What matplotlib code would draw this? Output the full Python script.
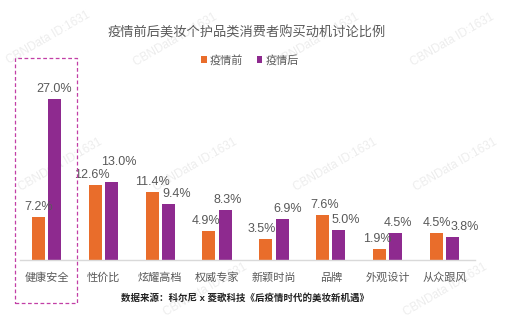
import matplotlib
matplotlib.use("Agg")
import matplotlib.pyplot as plt
from matplotlib.patches import Rectangle

plt.rcParams["font.family"] = ["Liberation Sans", "Noto Sans CJK SC", "DejaVu Sans"]

TITLE = "疫情前后美妆个护品类消费者购买动机讨论比例"
SOURCE = "数据来源：科尔尼 x 菱歌科技《后疫情时代的美妆新机遇》"
categories = ["健康安全", "性价比", "炫耀高档", "权威专家", "新颖时尚", "品牌", "外观设计", "从众跟风"]
series_names = ["疫情前", "疫情后"]
before = [7.2, 12.6, 11.4, 4.9, 3.5, 7.6, 1.9, 4.5]
after = [27.0, 13.0, 9.4, 8.3, 6.9, 5.0, 4.5, 3.8]

ORANGE = "#E96D2B"
PURPLE = "#8E2A8F"
GREY = "#595959"

W, H = 511, 324
fig = plt.figure(figsize=(W / 100, H / 100), dpi=100)


def fx(px):
    return px / W


def fy(py):
    # pixel measured from the top -> figure fraction
    return 1 - py / H


# axes: baseline at y=260px, 5.97 px per percent
ax = fig.add_axes([fx(20), fy(260), fx(455), 179.1 / H])
ax.patch.set_alpha(0)
ax.set_xlim(-0.47, 7.54)
ax.set_ylim(0, 30)
for s in ["top", "right", "left"]:
    ax.spines[s].set_visible(False)
ax.spines["bottom"].set_color("#d9d9d9")
ax.spines["bottom"].set_linewidth(1)
ax.set_yticks([])
ax.tick_params(axis="x", length=0, pad=9, labelsize=8, labelcolor=GREY)

x = list(range(len(categories)))
w, off = 0.23, 0.145
ax.bar([i - off for i in x], before, width=w, color=ORANGE, label=series_names[0])
ax.bar([i + off for i in x], after, width=w, color=PURPLE, label=series_names[1])
ax.set_xticks(x)
ax.set_xticklabels(categories)

# label nudges in pixels (Excel moved some labels to avoid overlap)
nudge_before = [(0, 0), (-3, 0), (0, 0), (-3, 0), (-4, 0), (2, 0), (-2, 0), (1, 0)]
nudge_after = [(-1, 0), (7, 10), (8, 0), (2, 0), (6, 0), (7, 0), (2, 0), (12, 0)]
for i in x:
    for val, sgn, nd in ((before[i], -1, nudge_before[i]), (after[i], 1, nudge_after[i])):
        ax.annotate(f"{val:.1f}%", (i + sgn * off, val), xytext=(nd[0], 7 + nd[1]),
                    textcoords="offset pixels", ha="center", va="baseline",
                    fontsize=9, color=GREY)

fig.text(fx(247), fy(33), TITLE, ha="center", va="center", fontsize=9.5, color=GREY)
fig.legend(loc="center", bbox_to_anchor=(fx(250), fy(60)), ncol=2, frameon=False,
           fontsize=8, handlelength=0.5, handleheight=0.5, handletextpad=0.3,
           columnspacing=1.2, labelcolor=GREY)
fig.text(fx(245), fy(298), SOURCE, ha="center", va="center", fontsize=6.8,
         color="#222222", fontweight="bold")

# dashed highlight box around the first category
fig.patches.append(Rectangle((fx(15), fy(303)), fx(62), (303 - 58) / H,
                             transform=fig.transFigure, fill=False,
                             edgecolor="#C23FA6", linestyle=(0, (3, 2)), linewidth=0.9))

# faint watermarks, behind the bars
for wx, wy in [(48, 38), (175, 40), (317, 40), (452, 40), (60, 165), (195, 165),
               (335, 165), (455, 165), (205, 290), (445, 290)]:
    fig.text(fx(wx), fy(wy), "CBNData ID:1631", rotation=30, ha="center", va="center",
             fontsize=8.5, color="#ededed", zorder=-1)

fig.savefig("out.png", dpi=100)
